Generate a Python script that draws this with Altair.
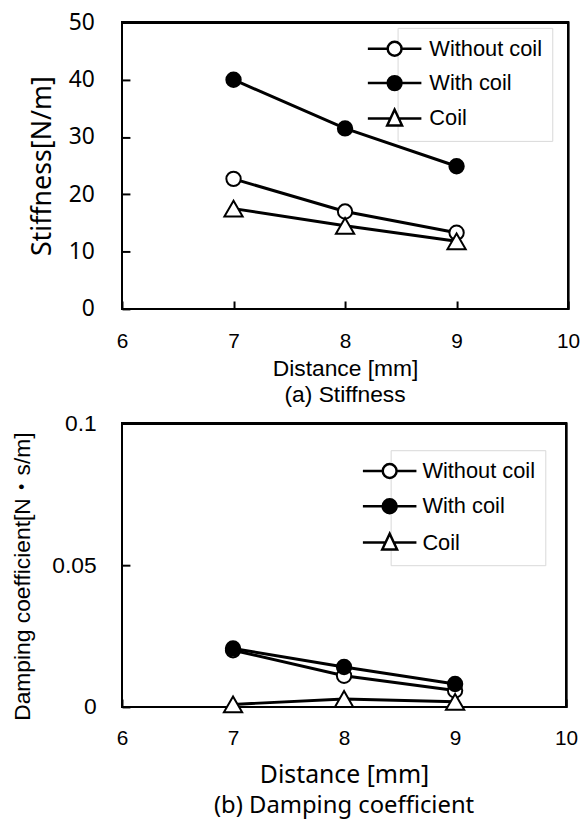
import altair as alt
import pandas as pd

# ---------------- data ----------------
distance = [7, 8, 9]
series = ["Without coil", "With coil", "Coil"]
draw_order = ["Without coil", "Coil", "With coil"]

stiffness = {
    "Without coil": [22.7, 17.0, 13.3],
    "With coil": [40.0, 31.5, 24.9],
    "Coil": [17.5, 14.5, 11.8],
}
damping = {
    "Without coil": [0.0200, 0.0110, 0.0058],
    "With coil": [0.0206, 0.0141, 0.0081],
    "Coil": [0.0009, 0.0028, 0.0018],
}

x_domain = [6, 10]
x_ticks = [6, 7, 8, 9, 10]
stiff_domain = [0, 50]
stiff_ticks = [0, 10, 20, 30, 40, 50]
damp_domain = [0, 0.1]
damp_ticks = [0, 0.05, 0.1]

# ---------------- styles ----------------
marker_shape = {"Without coil": "circle", "With coil": "circle", "Coil": "triangle-up"}
marker_fill = {"Without coil": "white", "With coil": "black", "Coil": "white"}
marker_size = {"Without coil": 210, "With coil": 210, "Coil": 340}
legend_fill = [marker_fill[s] for s in series]
legend_stroke = ["black", "black", "black"]


def circle_path(cx, r, half):
    return (f"M{cx-half},0H{cx-r}M{cx+r},0H{cx+half}"
            f"M{cx-r},0A{r},{r} 0 1,0 {cx+r},0A{r},{r} 0 1,0 {cx-r},0Z")


def triangle_path(cx, half):
    return (f"M{cx-half},0H{cx-4.2}M{cx+4.2},0H{cx+half}"
            f"M{cx},-9L{cx-7.5},7L{cx+7.5},7Z")


def legend_paths(cx):
    return [circle_path(cx, 7, 27), circle_path(cx, 7, 27), triangle_path(cx, 27)]


def make_df(values):
    rows = []
    for s in draw_order:
        for d, v in zip(distance, values[s]):
            rows.append({"distance": d, "value": v, "series": s,
                         "shape": marker_shape[s], "fill": marker_fill[s],
                         "size": marker_size[s]})
    return pd.DataFrame(rows)


def panel(df, ydomain, yticks, yfmt, ytitle, ytitle_font, ytitle_size, ytitle_x, ytitle_y,
          ylabel_font, ylabel_size, ylabel_pad, xlabel_pad, xtitle_font, xtitle_size, xtitle_pad,
          sub, sub_font, sub_size, sub_offset, width, height, lx, ly, lrow, cx):
    x = alt.X("distance:Q", scale=alt.Scale(domain=x_domain, nice=False, zero=False),
              axis=alt.Axis(values=x_ticks, title="Distance [mm]", format="d",
                            labelFont="Liberation Sans", labelFontSize=21, labelColor="black",
                            labelPadding=xlabel_pad, titleFont=xtitle_font,
                            titleFontSize=xtitle_size,
                            titleFontWeight="normal", titleColor="black", titlePadding=xtitle_pad,
                            domain=False, grid=False, ticks=True, tickSize=8, tickWidth=2,
                            tickColor="black", offset=-8, labelFlush=False))
    yaxis = dict(values=yticks, title=ytitle, format=yfmt,
                 labelFont=ylabel_font, labelFontSize=ylabel_size, labelColor="black",
                 labelPadding=ylabel_pad, titleFont=ytitle_font, titleFontSize=ytitle_size,
                 titleFontWeight="normal", titleColor="black", titleX=ytitle_x,
                 titleBaseline="middle", titleAnchor="middle",
                 domain=False, grid=False, ticks=True, tickSize=8, tickWidth=2,
                 tickColor="black", offset=-8, labelFlush=False)
    if ytitle_y is not None:
        yaxis["titleY"] = ytitle_y
    y = alt.Y("value:Q", scale=alt.Scale(domain=ydomain, nice=False, zero=False),
              axis=alt.Axis(**yaxis))

    base = alt.Chart(df)
    frame = base.mark_rect(fillOpacity=0, stroke="black", strokeWidth=2).encode(
        x=alt.X(datum=x_domain[0], scale=alt.Scale(domain=x_domain, nice=False, zero=False)),
        x2=alt.X2(datum=x_domain[1]),
        y=alt.Y(datum=ydomain[0], scale=alt.Scale(domain=ydomain, nice=False, zero=False)),
        y2=alt.Y2(datum=ydomain[1]),
    )
    lines = base.mark_line(color="black", strokeWidth=3).encode(
        x=x, y=y, detail="series:N")
    points = base.mark_point(filled=True, stroke="black", strokeWidth=2, opacity=1).encode(
        x=x, y=y,
        shape=alt.Shape("shape:N", scale=None),
        fill=alt.Fill("fill:N", scale=None),
        size=alt.Size("size:Q", scale=None),
    )
    leg = alt.Legend(title=None, orient="none", legendX=lx, legendY=ly,
                     labelFont="Liberation Sans", labelFontSize=22, labelColor="black",
                     symbolSize=4, symbolStrokeWidth=2.5, symbolStrokeColor="black",
                     padding=10, strokeColor="#d9d9d9", rowPadding=lrow, labelOffset=0,
                     labelLimit=300)
    legend_layer = base.transform_filter("false").mark_point(
        filled=True, stroke="black", strokeWidth=2.5, size=4, opacity=1).encode(
        shape=alt.Shape("series:N", scale=alt.Scale(domain=series, range=legend_paths(cx)),
                        legend=leg),
        fill=alt.Fill("series:N", scale=alt.Scale(domain=series, range=legend_fill), legend=leg),
        stroke=alt.Stroke("series:N", scale=alt.Scale(domain=series, range=legend_stroke),
                          legend=leg),
    )
    return alt.layer(frame, lines, points, legend_layer).resolve_scale(
        shape="independent", fill="independent", size="independent", stroke="independent"
    ).properties(
        width=width, height=height,
        title=alt.TitleParams(sub, orient="bottom", anchor="middle", font=sub_font,
                              fontSize=sub_size, fontWeight="normal", color="black",
                              offset=sub_offset),
    )


panel_a = panel(make_df(stiffness), stiff_domain, stiff_ticks, "d", "Stiffness[N/m]",
                "Noto Sans", 27, -88, None, "Noto Sans", 23, 28, 22,
                "Liberation Sans", 23, 6, "(a) Stiffness", "Liberation Sans", 23, 4,
                450, 289, 278, 5.5, 8.7, -24)
panel_b = panel(make_df(damping), damp_domain, damp_ticks, "~g",
                "Damping coefficient[N\u30fbs/m]",
                "Liberation Sans, Noto Sans CJK JP", 23, -108, 154,
                "Liberation Sans", 23, 26, 21,
                "Noto Sans", 25, 14, "(b) Damping coefficient", "Noto Sans", 24, 7,
                448, 286, 271, 27, 9.6, -22)

chart = alt.vconcat(panel_a, panel_b, spacing=5.5).resolve_scale(
    shape="independent", fill="independent", size="independent", stroke="independent"
).properties(
    padding={"left": 3, "top": 0, "right": 0, "bottom": 0}, background="white"
).configure_view(stroke=None)

chart.save("out.html", embed_options={"renderer": "svg", "actions": False})
